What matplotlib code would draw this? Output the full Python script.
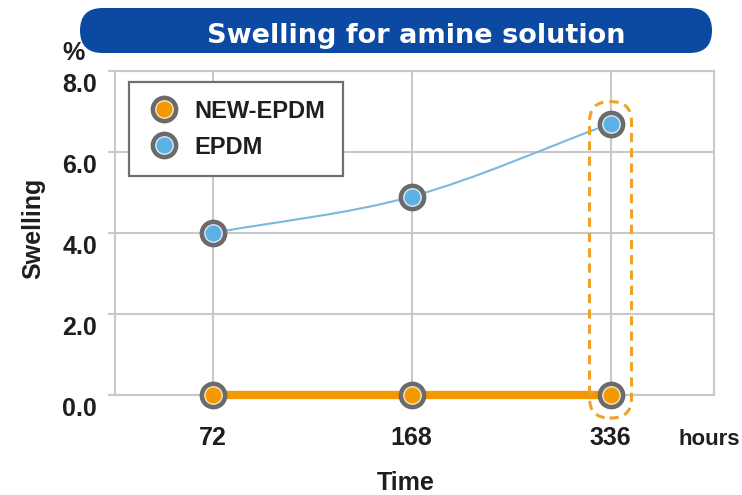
import matplotlib
matplotlib.use("Agg")
import matplotlib.pyplot as plt
from matplotlib.patches import FancyBboxPatch, PathPatch
from matplotlib.path import Path
from matplotlib.lines import Line2D
from matplotlib.legend_handler import HandlerTuple
import matplotlib.transforms as mtransforms

# ---- data ----
time_labels = ["72", "168", "336"]
new_epdm = [0.0, 0.0, 0.0]
epdm = [4.0, 4.9, 6.7]
y_ticks = [0, 2, 4, 6, 8]
y_tick_labels = ["0.0", "2.0", "4.0", "6.0", "8.0"]
series_names = ["NEW-EPDM", "EPDM"]
title = "Swelling for amine solution"

# ---- style ----
ORANGE = "#f39800"
BLUE = "#5cb0e4"
BLUE_LINE = "#7ab9dd"
GREY = "#6b6b6b"
GRID = "#c9c9c9"
NAVY = "#0b49a3"
DASH = "#f0a12a"
TXT = "#1e1e1e"
FONT = ["Liberation Sans", "DejaVu Sans"]
plt.rcParams["font.family"] = FONT

W, H = 742, 495
fig = plt.figure(figsize=(W / 100, H / 100), dpi=100)
ax = fig.add_axes([115 / W, 100 / H, 599 / W, 324 / H])

x = list(range(len(time_labels)))
ax.set_xlim(-0.49, 2.52)
ax.set_ylim(0, 8)

# grid and frame
ax.set_xticks(x)
ax.set_yticks(y_ticks)
ax.grid(True, color=GRID, lw=1.5, zorder=0)
for s in ax.spines.values():
    s.set_color(GRID)
    s.set_linewidth(1.5)
    s.set_zorder(1)
ax.tick_params(axis="y", length=5, width=1.5, color=GRID, pad=8)
ax.tick_params(axis="x", length=0, pad=22)
ax.set_yticklabels(y_tick_labels, fontsize=18, fontweight="bold", color=TXT, va="top")
ax.set_xticklabels(time_labels, fontsize=18, fontweight="bold", color=TXT)
for t in ax.get_yticklabels():
    t.set_transform(t.get_transform() + mtransforms.Affine2D().translate(0, -2))
ax.set_axisbelow(True)

# EPDM smooth curve (Catmull-Rom -> cubic Bezier, in data coords)
pts = list(zip(x, epdm))
verts = [pts[0]]
codes = [Path.MOVETO]
n = len(pts)
for i in range(n - 1):
    p0 = pts[i - 1] if i > 0 else pts[i]
    p1 = pts[i]
    p2 = pts[i + 1]
    p3 = pts[i + 2] if i + 2 < n else pts[i + 1]
    f0 = 0.5 if i > 0 else 1.0
    f1 = 0.5 if i + 2 < n else 1.0
    t1 = ((p2[0] - p0[0]) * f0, (p2[1] - p0[1]) * f0)
    t2 = ((p3[0] - p1[0]) * f1, (p3[1] - p1[1]) * f1)
    c1 = (p1[0] + t1[0] / 3, p1[1] + t1[1] / 3)
    c2 = (p2[0] - t2[0] / 3, p2[1] - t2[1] / 3)
    verts += [c1, c2, p2]
    codes += [Path.CURVE4] * 3
ax.add_patch(PathPatch(Path(verts, codes), fill=False, edgecolor=BLUE_LINE, lw=1.5, zorder=3))

# NEW-EPDM thick line
ax.plot(x, new_epdm, color=ORANGE, lw=6, solid_capstyle="butt", zorder=3, clip_on=False)

# markers
def markers(vals, color):
    ax.plot(x, vals, ls="none", marker="o", ms=20, mfc=GREY, mec=GREY, mew=0, zorder=5, clip_on=False)
    ax.plot(x, vals, ls="none", marker="o", ms=12.5, mfc=color, mec="#f3e6c8" if color == ORANGE else "#d9ecf7",
            mew=1.0, zorder=6, clip_on=False)

markers(new_epdm, ORANGE)
markers(epdm, BLUE)

# dashed highlight around last column
fig.canvas.draw()
cx, ytop = ax.transData.transform((x[-1], epdm[-1]))
_, ybot = ax.transData.transform((x[-1], new_epdm[-1]))
hw, pad = 21, 22
hl = FancyBboxPatch((cx - hw, ybot - pad - 1), 2 * hw, (ytop - ybot) + 2 * pad + 1,
                    boxstyle="round,pad=0,rounding_size=20", fill=False, edgecolor=DASH,
                    lw=2.2, linestyle=(0, (3, 2)), transform=mtransforms.IdentityTransform(),
                    zorder=4, clip_on=False)
ax.add_artist(hl)

# legend
def handle(color):
    outer = Line2D([], [], ls="none", marker="o", ms=20, mfc=GREY, mew=0)
    inner = Line2D([], [], ls="none", marker="o", ms=12.5, mfc=color,
                   mec="#f3e6c8" if color == ORANGE else "#d9ecf7", mew=1.0)
    return (outer, inner)

leg = ax.legend([handle(ORANGE), handle(BLUE)], series_names,
                handler_map={tuple: HandlerTuple(ndivide=1, pad=0)},
                loc="upper left", bbox_to_anchor=(14 / 599, 313 / 324),
                fancybox=False, framealpha=1, edgecolor="#707070",
                prop={"family": FONT, "weight": "bold", "size": 17},
                borderpad=0.75, labelspacing=0.55, handlelength=1.5, handletextpad=0.5,
                borderaxespad=0)
leg.get_frame().set_linewidth(1.6)
for t in leg.get_texts():
    t.set_color(TXT)
leg.set_zorder(7)

# title pill
tb = FancyBboxPatch((80, H - 53), 632, 45, boxstyle="round,pad=0,rounding_size=22.5",
                    facecolor=NAVY, edgecolor="none", transform=mtransforms.IdentityTransform())
fig.add_artist(tb)
fig.text(416 / W, (H - 43) / H, title, ha="center", va="baseline", color="white",
         fontsize=19.5, fontweight="bold", family=["DejaVu Sans"])

# axis texts
fig.text(62 / W, (H - 60) / H, "%", ha="left", va="baseline", fontsize=18, fontweight="bold", color=TXT)
fig.text(33 / W, (H - 228) / H, "Swelling", rotation=90, ha="center", va="center",
         fontsize=18, fontweight="bold", color=TXT)
fig.text(406 / W, (H - 490) / H, "Time", ha="center", va="baseline", fontsize=18, fontweight="bold", color=TXT)
fig.text(678 / W, (H - 445) / H, "hours", ha="left", va="baseline", fontsize=16, fontweight="bold", color=TXT)

fig.savefig("out.png", dpi=100)
